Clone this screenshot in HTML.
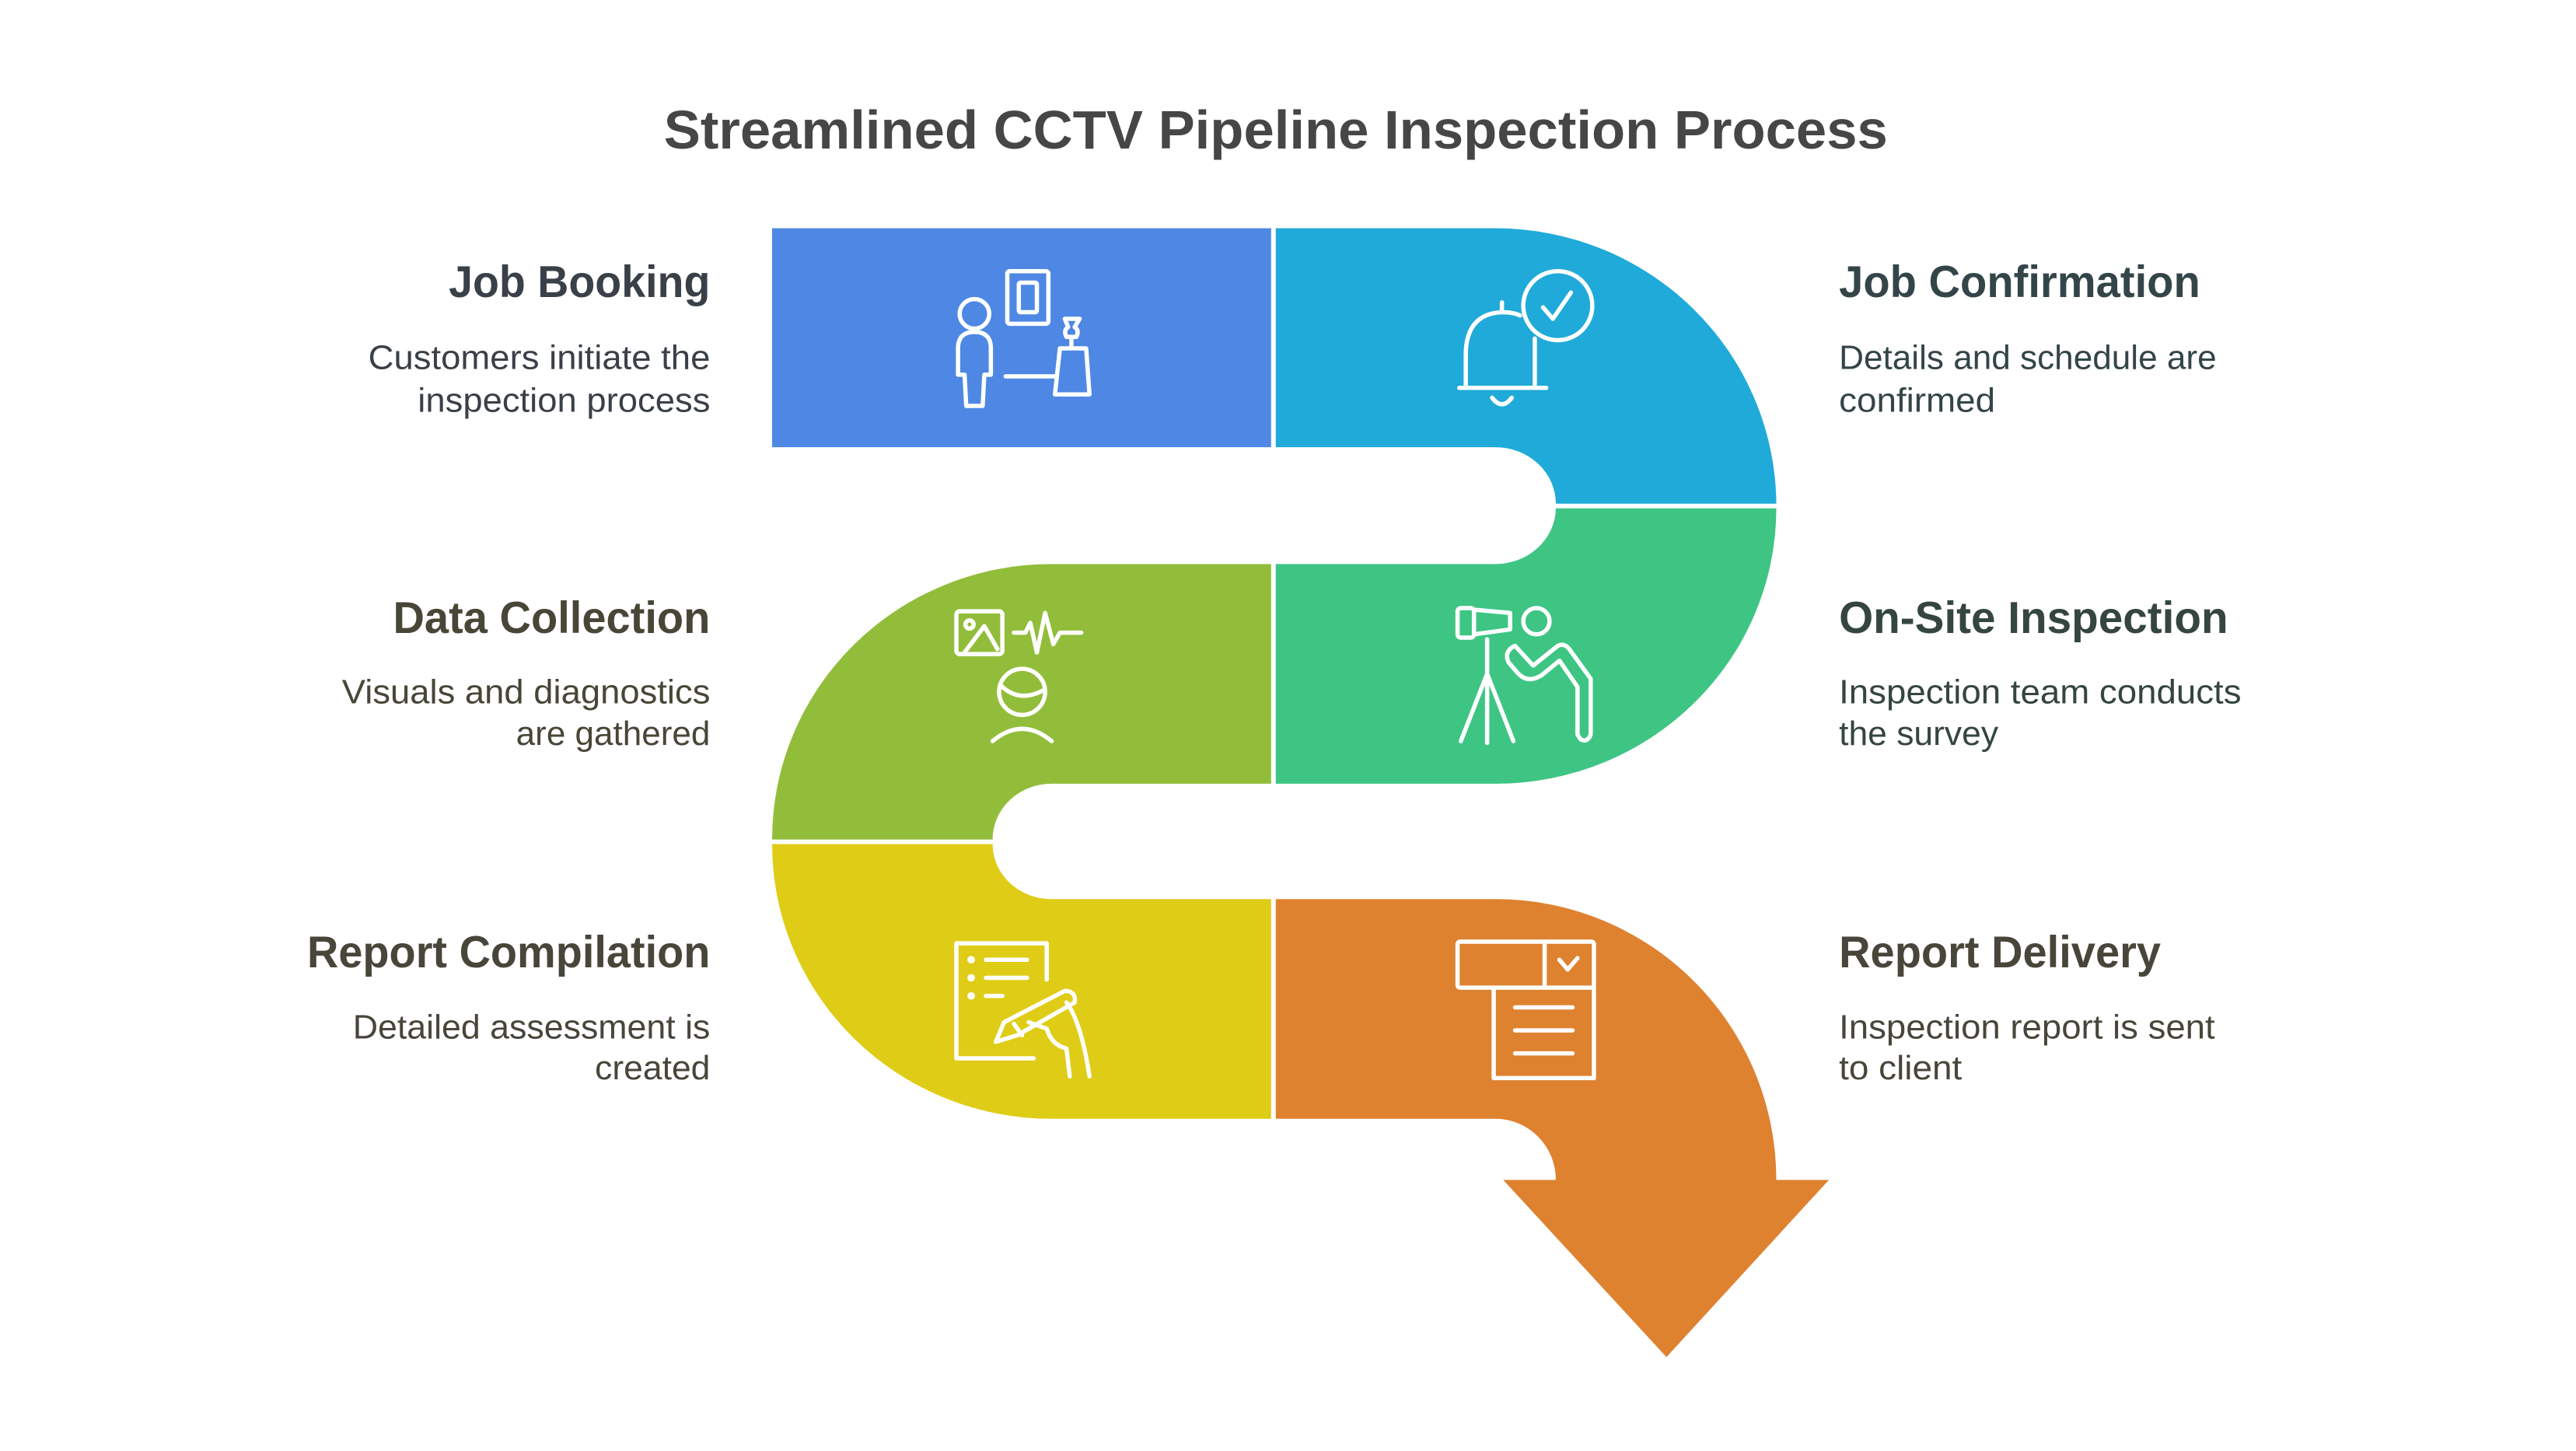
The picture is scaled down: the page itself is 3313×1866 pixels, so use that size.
<!DOCTYPE html>
<html><head><meta charset="utf-8"><style>
html,body{margin:0;padding:0;background:#fff;}
svg{display:block;}
text{font-family:"Liberation Sans",sans-serif;}
</style></head><body>
<svg width="3313" height="1866" viewBox="0 0 3313 1866" xmlns="http://www.w3.org/2000/svg">
<rect width="3313" height="1866" fill="#fff"/>
<g transform="scale(0.995)">
<text x="858" y="192" font-size="70" font-weight="bold" fill="#464646" textLength="1582" lengthAdjust="spacingAndGlyphs">Streamlined CCTV Pipeline Inspection Process</text>

<path d="M998,295 H1643 V578 H998 Z" fill="#4E88E4"/>
<path d="M1649,295 H1933 A363,359 0 0 1 2296,651 H2011 A78,73 0 0 0 1933,578 H1649 Z" fill="#20AAD9"/>
<path d="M1649,729 H1933 A78,73 0 0 0 2011,657 H2296 A363,356 0 0 1 1933,1013 H1649 Z" fill="#3EC584"/>
<path d="M1643,729 H1359 A361,356 0 0 0 998,1085 H1283 A76,72 0 0 1 1359,1013 H1643 Z" fill="#92BD3A"/>
<path d="M1643,1162 H1359 A76,71 0 0 1 1283,1091 H998 A361,355 0 0 0 1359,1446 H1643 Z" fill="#DFCC17"/>
<path d="M1649,1162 H1933 A363,363 0 0 1 2296,1525 H2364 L2154,1754 L1943,1525 H2011 A78,79 0 0 0 1933,1446 H1649 Z" fill="#DE8230"/>

<g transform="scale(2.124)" fill="none" stroke="#fff" stroke-width="2.6" stroke-linecap="round" stroke-linejoin="round">
 <circle cx="593" cy="191" r="9"/>
 <path d="M583,228 V212 Q583,202 593,202 Q603,202 603,212 V228 H599 L598,247 H588 L587,228 Z"/>
 <rect x="613" y="165" width="25" height="32" rx="1.5"/><rect x="620" y="172" width="11" height="18" rx="1"/>
 <path d="M612,229 H643"/>
 <path d="M645,212 H661 L663,240 H642 Z M652,212 V205 M648,194 H657 L654,199 Q657,201 655,205 H649 Q647,201 650,199 Z"/>
 <circle cx="948" cy="186" r="21"/><path d="M939,187 L945,194 L956,178"/>
 <path d="M888,236 H941 M892,235 V216 Q892,191 914,190 Q921,190 925,192 M914,190 V184 M934,206 V234"/>
 <path d="M908,242 Q914,250 920,242"/>
 <rect x="887" y="370" width="10" height="18" rx="2"/><path d="M897,371 L919,373 V383 L897,386"/>
 <path d="M905,389 V452 M905,410 L889,451 M905,410 L921,451"/>
 <circle cx="935" cy="378" r="8"/>
 <path d="M922,393 L933,405 L948,393 Q952,391 955,395 L968,413 V447 Q966,452 962,450 L960,447 V418 L949,402 L938,411 Q930,416 924,410 L918,403 Q915,396 922,393 Z"/>
 <rect x="582" y="372" width="28" height="26" rx="2"/><circle cx="590" cy="380" r="2.5"/><path d="M587,397 L599,381 L607,395"/>
 <path d="M617,385 H624 L627,379 L631,397 L636,373 L641,392 L645,385 H658"/>
 <ellipse cx="622" cy="421" rx="14" ry="14"/><path d="M609,417 Q620,428 635,420"/>
 <path d="M604,451 Q622,436 640,451"/>
 <path d="M637,596 V574 H582 V644 H629"/>
 <path d="M600,584 H625 M600,595 H625 M600,606 H610"/><circle cx="591" cy="584" r="1" fill="#fff"/><circle cx="591" cy="595" r="1" fill="#fff"/><circle cx="591" cy="606" r="1" fill="#fff"/>
 <path d="M606,634 L611,622 L648,603 Q655,603 654,610 L619,630 Z M617,623 L622,630"/>
 <path d="M649,610 Q658,622 663,655 M626,622 L637,626 Q640,636 649,638 L651,655"/>
 <rect x="887" y="573" width="83" height="28" rx="1.5"/>
 <path d="M909,601 V656 H970 V601 M940,573 V601 M949,584 L954,590 L960,583 M922,613 H957 M922,627 H957 M922,641 H957"/>
</g>

<g font-size="58" font-weight="bold">
 <text x="918" y="384" text-anchor="end" fill="#3a4048" textLength="338" lengthAdjust="spacingAndGlyphs">Job Booking</text>
 <text x="918" y="818" text-anchor="end" fill="#484637" textLength="410" lengthAdjust="spacingAndGlyphs">Data Collection</text>
 <text x="918" y="1250" text-anchor="end" fill="#48453a" textLength="521" lengthAdjust="spacingAndGlyphs">Report Compilation</text>
 <text x="2377" y="384" fill="#344549" textLength="467" lengthAdjust="spacingAndGlyphs">Job Confirmation</text>
 <text x="2377" y="818" fill="#354541" textLength="503" lengthAdjust="spacingAndGlyphs">On-Site Inspection</text>
 <text x="2377" y="1250" fill="#48453a" textLength="416" lengthAdjust="spacingAndGlyphs">Report Delivery</text>
</g>
<g font-size="44">
 <text x="918" y="477" text-anchor="end" fill="#3a4048" textLength="442" lengthAdjust="spacingAndGlyphs">Customers initiate the</text>
 <text x="918" y="532" text-anchor="end" fill="#3a4048" textLength="378" lengthAdjust="spacingAndGlyphs">inspection process</text>
 <text x="918" y="909" text-anchor="end" fill="#484637" textLength="476" lengthAdjust="spacingAndGlyphs">Visuals and diagnostics</text>
 <text x="918" y="963" text-anchor="end" fill="#484637" textLength="251" lengthAdjust="spacingAndGlyphs">are gathered</text>
 <text x="918" y="1342" text-anchor="end" fill="#48453a" textLength="462" lengthAdjust="spacingAndGlyphs">Detailed assessment is</text>
 <text x="918" y="1395" text-anchor="end" fill="#48453a" textLength="149" lengthAdjust="spacingAndGlyphs">created</text>
 <text x="2377" y="477" fill="#344549" textLength="488" lengthAdjust="spacingAndGlyphs">Details and schedule are</text>
 <text x="2377" y="532" fill="#344549" textLength="202" lengthAdjust="spacingAndGlyphs">confirmed</text>
 <text x="2377" y="909" fill="#354541" textLength="520" lengthAdjust="spacingAndGlyphs">Inspection team conducts</text>
 <text x="2377" y="963" fill="#354541" textLength="206" lengthAdjust="spacingAndGlyphs">the survey</text>
 <text x="2377" y="1342" fill="#48453a" textLength="486" lengthAdjust="spacingAndGlyphs">Inspection report is sent</text>
 <text x="2377" y="1395" fill="#48453a" textLength="159" lengthAdjust="spacingAndGlyphs">to client</text>
</g>
</g>
</svg>
</body></html>
